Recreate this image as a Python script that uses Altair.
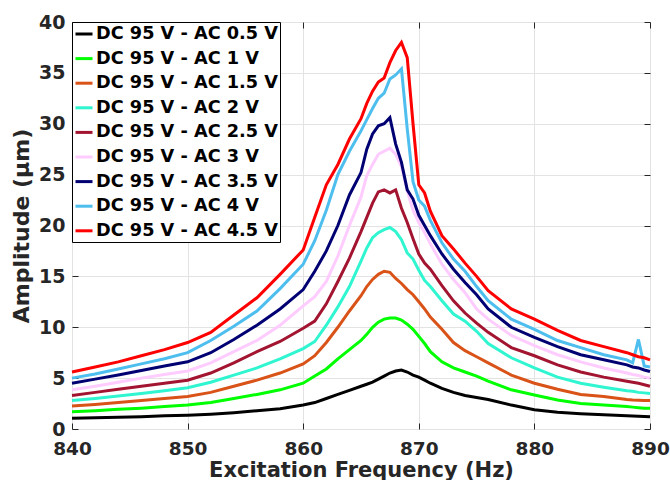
import altair as alt
import pandas as pd

freq = [840, 842, 844, 846, 848, 850, 852, 854, 856, 858,
        860, 861, 862, 863, 864, 865,
        865.5, 866, 866.5, 867, 867.5, 868, 868.5, 869, 869.5, 870, 870.5, 871,
        872, 873, 874, 875, 876,
        878, 880, 882, 884, 886, 888,
        888.5, 889, 889.5, 890]

ac_05 = [1.05, 1.1, 1.15, 1.2, 1.3, 1.35, 1.45, 1.6, 1.8, 2.0,
         2.35, 2.6, 3.0, 3.4, 3.8, 4.2,
         4.4, 4.6, 4.9, 5.2, 5.5, 5.7, 5.8, 5.6, 5.3, 5.1, 4.8, 4.5,
         4.0, 3.6, 3.3, 3.1, 2.9,
         2.35, 1.9, 1.65, 1.5, 1.4, 1.3,
         1.28, 1.25, 1.22, 1.2]
ac_1 = [1.7, 1.8, 1.95, 2.05, 2.2, 2.35, 2.6, 3.0, 3.4, 3.85,
        4.5, 5.2, 5.9, 6.9, 7.8, 8.7,
        9.3, 10.0, 10.5, 10.8, 10.9, 10.9, 10.7, 10.3, 9.8, 9.1, 8.4, 7.6,
        6.6, 6.0, 5.6, 5.2, 4.7,
        3.85, 3.35, 2.85, 2.5, 2.35, 2.2,
        2.15, 2.1, 2.05, 2.05]
ac_15 = [2.25, 2.4, 2.6, 2.8, 3.0, 3.2, 3.6, 4.2, 4.8, 5.5,
         6.4, 7.2, 8.5, 10.0, 11.6, 13.1,
         14.0, 14.7, 15.2, 15.5, 15.4, 14.8, 14.3, 13.7, 13.2, 12.5, 11.8, 11.0,
         9.8, 8.5, 7.7, 7.1, 6.5,
         5.3, 4.5, 3.9, 3.4, 3.2, 2.9,
         2.85, 2.82, 2.8, 2.8]
ac_2 = [2.8, 3.0, 3.25, 3.5, 3.75, 4.05, 4.6, 5.3, 6.0, 6.9,
        7.9, 8.6, 10.2, 12.0, 14.0, 16.5,
        17.8, 18.8, 19.3, 19.6, 19.8, 19.4, 18.6, 17.3, 16.7, 15.6, 14.6, 14.0,
        12.6, 11.3, 10.6, 9.6, 8.4,
        7.0, 6.0, 5.1, 4.5, 4.1, 3.75,
        3.7, 3.6, 3.55, 3.5]
ac_25 = [3.3, 3.6, 3.9, 4.2, 4.5, 4.8, 5.5, 6.5, 7.6, 8.6,
         9.9, 10.6, 12.3, 14.5, 16.8, 19.4,
         20.8, 22.2, 23.3, 23.5, 23.2, 23.5, 21.7, 20.3, 18.7, 17.2, 16.3, 15.7,
         14.1, 12.6, 11.4, 10.4, 9.5,
         8.0, 7.2, 6.3, 5.6, 5.1, 4.7,
         4.6, 4.5, 4.35, 4.2]
ac_3 = [3.85, 4.2, 4.6, 5.0, 5.35, 5.7, 6.5, 7.6, 8.7, 10.2,
        12.1, 13.0, 14.5, 17.0, 20.0, 22.8,
        24.9, 26.0, 27.0, 27.3, 27.6, 27.0, 25.8, 23.4, 21.5, 20.3, 19.3, 18.2,
        16.2, 14.7, 13.4, 11.8, 10.8,
        9.2, 8.2, 7.3, 6.6, 6.0, 5.5,
        5.35, 5.25, 5.1, 5.0]
ac_35 = [4.5, 4.9, 5.3, 5.75, 6.2, 6.6, 7.5, 8.8, 10.2, 11.8,
         13.7, 15.5, 17.5, 20.0, 23.0, 25.2,
         27.5, 29.0, 29.8, 30.0, 30.6, 28.0, 26.2, 23.5, 22.6, 21.0, 20.0, 19.0,
         17.2, 15.7, 14.4, 13.2, 11.8,
         10.0, 9.0, 8.1, 7.3, 6.8, 6.3,
         6.1, 6.0, 5.8, 5.65]
ac_4 = [5.0, 5.4, 5.9, 6.4, 6.9, 7.5, 8.7, 10.1, 11.6, 13.8,
        16.2, 18.5, 21.5, 25.0, 27.3, 29.3,
        30.4, 31.5, 32.5, 33.0, 34.4, 34.8, 35.4, 29.5, 24.3, 22.5, 21.9, 20.5,
        18.3, 16.7, 15.5, 14.0, 12.6,
        10.8, 9.8, 8.7, 8.0, 7.3, 6.8,
        6.5, 8.8, 6.2, 6.1]
ac_45 = [5.6, 6.1, 6.6, 7.2, 7.8, 8.5, 9.5, 11.2, 12.9, 15.2,
         17.6, 20.8, 24.0, 26.0, 28.5, 30.5,
         32.0, 33.2, 34.1, 34.5, 36.0, 37.2, 38.0, 36.5, 30.0, 24.0, 23.2, 21.4,
         19.0, 17.7, 16.3, 15.0, 13.6,
         11.8, 10.8, 9.7, 8.7, 8.1, 7.5,
         7.3, 7.1, 7.0, 6.8]

series_names = ["DC 95 V - AC 0.5 V", "DC 95 V - AC 1 V", "DC 95 V - AC 1.5 V",
                "DC 95 V - AC 2 V", "DC 95 V - AC 2.5 V", "DC 95 V - AC 3 V",
                "DC 95 V - AC 3.5 V", "DC 95 V - AC 4 V", "DC 95 V - AC 4.5 V"]
series_values = [ac_05, ac_1, ac_15, ac_2, ac_25, ac_3, ac_35, ac_4, ac_45]
series_colors = ["#000000", "#00ff00", "#d95319", "#2ff5d0", "#a2142f",
                 "#ffccff", "#000073", "#4dbeee", "#ff0000"]

x_ticks = [840, 850, 860, 870, 880, 890]
y_ticks = [0, 5, 10, 15, 20, 25, 30, 35, 40]

rows = []
for i, (name, vals) in enumerate(zip(series_names, series_values)):
    for f, v in zip(freq, vals):
        rows.append({"freq": f, "amp": v, "series": name, "k": i})
df = pd.DataFrame(rows)

W, H = 578, 407
FONT = "DejaVu Sans"
AX = "#262626"

x_scale = alt.Scale(domain=[840, 890], nice=False, zero=False)
y_scale = alt.Scale(domain=[0, 40], nice=False, zero=True)

base = alt.Chart(df)

lines = base.mark_line(strokeWidth=3).encode(
    x=alt.X("freq:Q", scale=x_scale,
            axis=alt.Axis(orient="bottom", values=x_ticks, title="Excitation Frequency (Hz)",
                          grid=True, gridColor="#e3e3e3", ticks=False, domain=False,
                          labelFlush=False, labelOverlap=False,
                          labelFont=FONT, labelFontSize=18.5, labelFontWeight="bold", labelColor=AX,
                          labelPadding=10, titleFont=FONT, titleFontSize=21, titleFontWeight="bold",
                          titleColor=AX, titlePadding=1.5, format="d")),
    y=alt.Y("amp:Q", scale=y_scale,
            axis=alt.Axis(orient="left", values=y_ticks, title="Amplitude (μm)",
                          grid=True, gridColor="#e3e3e3", ticks=False, domain=False,
                          labelFlush=False, labelOverlap=False,
                          labelFont=FONT, labelFontSize=19, labelFontWeight="bold", labelColor=AX,
                          labelPadding=7, titleFont=FONT, titleFontSize=22, titleFontWeight="bold",
                          titleColor=AX, titlePadding=5, format="d")),
    color=alt.Color("series:N",
                    scale=alt.Scale(domain=series_names, range=series_colors),
                    legend=alt.Legend(orient="none", legendX=0, legendY=0, title=None,
                                      symbolType="stroke", symbolSize=289, symbolStrokeWidth=3,
                                      labelFont=FONT, labelFontSize=17.7, labelFontWeight="bold",
                                      labelColor="#000000", labelOffset=2, rowPadding=5.6,
                                      padding=2, strokeColor="#000000", fillColor="#ffffff",
                                      labelLimit=400)),
    order=alt.Order("k:Q"),
)

ticks_in_a = base.mark_point(opacity=0).encode(
    x=alt.X("freq:Q", scale=x_scale,
            axis=alt.Axis(orient="top", offset=-H, values=x_ticks, labels=False, title="",
                          grid=False, domain=False, ticks=True, tickSize=6, tickColor=AX)),
    y=alt.Y("amp:Q", scale=y_scale,
            axis=alt.Axis(orient="right", offset=-W, values=y_ticks, labels=False, title="",
                          grid=False, domain=False, ticks=True, tickSize=6, tickColor=AX)),
)

ticks_in_b = base.mark_point(opacity=0).encode(
    x=alt.X("freq:Q", scale=x_scale,
            axis=alt.Axis(orient="bottom", offset=-H, values=x_ticks, labels=False, title="",
                          grid=False, domain=False, ticks=True, tickSize=6, tickColor=AX)),
    y=alt.Y("amp:Q", scale=y_scale,
            axis=alt.Axis(orient="left", offset=-W, values=y_ticks, labels=False, title="",
                          grid=False, domain=False, ticks=True, tickSize=6, tickColor=AX)),
)

chart = alt.layer(lines, ticks_in_a, ticks_in_b).properties(
    width=W, height=H,
    autosize=alt.AutoSizeParams(type="none"),
    padding={"left": 72, "top": 22, "right": 20, "bottom": 51},
).configure_view(stroke=AX, strokeWidth=1).configure(background="#ffffff")

chart.save("out.html", embed_options={"renderer": "svg", "actions": False})
